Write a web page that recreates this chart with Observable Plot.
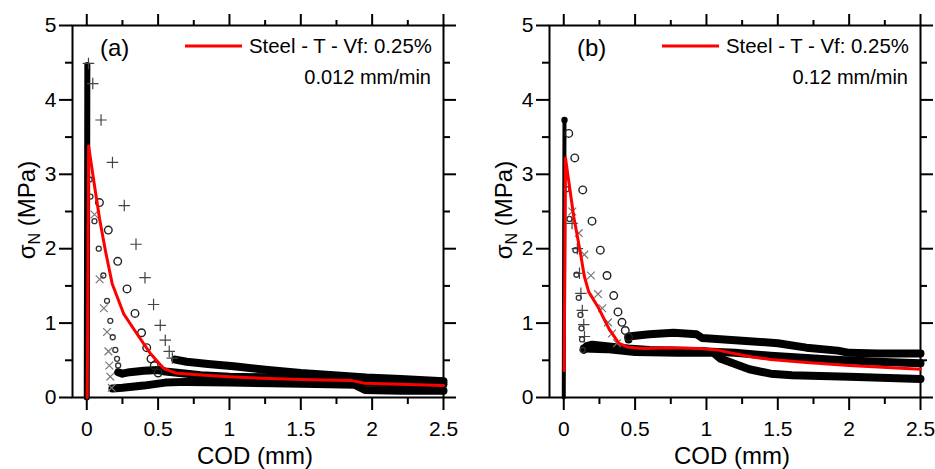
<!DOCTYPE html>
<html>
<head>
<meta charset="utf-8">
<script src="https://cdn.jsdelivr.net/npm/d3@7"></script>
<script src="https://cdn.jsdelivr.net/npm/@observablehq/plot@0.6"></script>
<style>
  body { margin: 0; background: #fff; }
  #wrap { position: relative; width: 935px; height: 469px; background: #fff; overflow: hidden; }
  #wrap svg { position: absolute; top: 0; }
</style>
</head>
<body>
<div id="wrap"></div>
<script>
// ---------- axis ticks / labels ----------
const xMajor = [0, 0.5, 1, 1.5, 2, 2.5];
const xMinor = [0.25, 0.75, 1.25, 1.75, 2.25];
const yMajor = [0, 1, 2, 3, 4, 5];
const yMinor = [0.5, 1.5, 2.5, 3.5, 4.5];
const xTitle = "COD (mm)";
const yTitleMain = "σ";
const yTitleSub = "N";
const yTitleRest = " (MPa)";
const legendLabel = "Steel - T - Vf: 0.25%";
const panelTags = ["(a)", "(b)"];
const rateLabels = ["0.012 mm/min", "0.12 mm/min"];

// ---------- panel (a) data: [COD, sigma] ----------
const aRise = [[0.0, 0], [0.004, 4.47]];
const aBandTop = [[0.62,0.51],[0.7,0.48],[0.85,0.45],[1.03,0.42],[1.27,0.37],[1.5,0.33],[1.73,0.30],[1.96,0.27],[2.2,0.25],[2.5,0.22]];
const aBandMid = [[0.22,0.34],[0.25,0.32],[0.3,0.34],[0.4,0.36],[0.5,0.37],[0.55,0.35],[0.65,0.33],[0.8,0.30],[1.0,0.28],[1.3,0.27],[1.6,0.25],[1.88,0.24],[1.95,0.20],[2.5,0.18]];
const aBandLow = [[0.18,0.12],[0.25,0.13],[0.4,0.16],[0.55,0.20],[0.7,0.21],[1.0,0.20],[1.3,0.19],[1.6,0.18],[1.88,0.17],[1.95,0.10],[2.2,0.09],[2.5,0.09]];
const aPlus = [[0.012,4.49],[0.042,4.22],[0.1,3.73],[0.18,3.16],[0.263,2.58],[0.345,2.06],[0.408,1.61],[0.468,1.25],[0.515,0.97],[0.55,0.77],[0.578,0.62],[0.6,0.53]];
const aCircle = [[0.089,2.62],[0.151,2.25],[0.217,1.83],[0.282,1.46],[0.338,1.13],[0.384,0.87],[0.42,0.67],[0.45,0.52],[0.473,0.43],[0.5,0.33]];
const aSmall = [[0.02,2.93],[0.026,2.70],[0.054,2.37],[0.084,2.0],[0.116,1.64],[0.142,1.30],[0.165,1.03],[0.182,0.81],[0.2,0.64],[0.212,0.52],[0.22,0.43]];
const aTimes = [[0.054,2.46],[0.09,1.59],[0.12,1.20],[0.142,0.88],[0.152,0.62],[0.158,0.43],[0.165,0.28],[0.175,0.13]];
const aMean = [[0.003,0],[0.013,3.38],[0.05,2.9],[0.09,2.4],[0.13,1.98],[0.178,1.53],[0.26,1.12],[0.35,0.86],[0.45,0.58],[0.54,0.39],[0.62,0.33],[0.75,0.31],[1.0,0.28],[1.22,0.26],[1.57,0.24],[1.85,0.23],[1.95,0.19],[2.5,0.16]];

// ---------- panel (b) data ----------
const bRise = [[0.0, 0], [0.005, 3.73]];
const bBandTop = [[0.454,0.78],[0.454,0.82],[0.5,0.83],[0.6,0.85],[0.77,0.87],[0.93,0.85],[0.97,0.80],[1.2,0.77],[1.5,0.73],[1.7,0.67],[1.92,0.63],[2.0,0.60],[2.2,0.59],[2.5,0.59]];
const bBandMid = [[0.14,0.64],[0.16,0.69],[0.2,0.71],[0.3,0.69],[0.45,0.66],[0.6,0.64],[0.8,0.63],[1.0,0.62],[1.2,0.60],[1.45,0.56],[1.87,0.51],[2.2,0.48],[2.5,0.46]];
const bBandLow = [[0.14,0.66],[0.3,0.65],[0.5,0.61],[0.8,0.60],[1.05,0.60],[1.1,0.52],[1.2,0.45],[1.3,0.38],[1.45,0.32],[1.6,0.30],[2.0,0.28],[2.5,0.25]];
const bCircle = [[0.035,3.55],[0.077,3.22],[0.133,2.79],[0.198,2.37],[0.256,1.98],[0.303,1.64],[0.35,1.37],[0.38,1.15],[0.408,1.01],[0.431,0.90],[0.454,0.81]];
const bTimes = [[0.06,2.5],[0.105,2.21],[0.144,1.92],[0.19,1.64],[0.24,1.39],[0.27,1.20],[0.31,1.01],[0.338,0.86],[0.373,0.73]];
const bSmall = [[0.02,2.8],[0.04,2.4],[0.082,1.98],[0.089,1.65],[0.105,1.34],[0.117,1.11],[0.124,0.93],[0.128,0.78],[0.133,0.64]];
const bPlus = [[0.058,2.34],[0.095,2.0],[0.11,1.67],[0.12,1.40],[0.13,1.17],[0.14,0.98],[0.145,0.82]];
const bMean = [[0.003,0.36],[0.012,3.22],[0.07,2.43],[0.117,1.94],[0.144,1.63],[0.175,1.42],[0.245,1.2],[0.315,0.93],[0.385,0.73],[0.444,0.68],[0.55,0.66],[0.75,0.67],[0.95,0.66],[1.075,0.64],[1.17,0.60],[1.3,0.55],[1.45,0.51],[1.7,0.47],[2.0,0.43],[2.3,0.40],[2.5,0.38]];

const FONT = "'Liberation Sans', Arial, Helvetica, sans-serif";
const P = d => ({x: d[0], y: d[1]});

function panel(cfg) {
  const {width, rise, bands, plus, circle, small, times, mean, tag, rate, peakDot} = cfg;
  const marks = [
    Plot.frame({stroke: "black", strokeWidth: 2}),
    Plot.axisX(xMajor, {anchor: "bottom", tickSize: 13, tickPadding: 11, strokeWidth: 2, tickFormat: d => String(d), fontSize: 21, label: null}),
    Plot.axisX(xMinor, {anchor: "bottom", tickSize: 7, strokeWidth: 2, tickFormat: () => "", label: null}),
    Plot.axisX(xMajor, {anchor: "top", tickSize: 12, strokeWidth: 2, tickFormat: () => "", label: null}),
    Plot.axisX(xMinor, {anchor: "top", tickSize: 6, strokeWidth: 2, tickFormat: () => "", label: null}),
    Plot.axisY(yMajor, {anchor: "left", tickSize: 13, tickPadding: 3, strokeWidth: 2, tickFormat: d => String(d), fontSize: 21, label: null}),
    Plot.axisY(yMinor, {anchor: "left", tickSize: 7, strokeWidth: 2, tickFormat: () => "", label: null}),
    Plot.axisY(yMajor, {anchor: "right", tickSize: 12, strokeWidth: 2, tickFormat: () => "", label: null}),
    Plot.axisY(yMinor, {anchor: "right", tickSize: 6, strokeWidth: 2, tickFormat: () => "", label: null}),
    ...bands.map(b => Plot.line(b.map(P), {x: "x", y: "y", stroke: "black", strokeWidth: 8, strokeLinejoin: "round", strokeLinecap: "round"})),
    Plot.line(rise.map(P), {x: "x", y: "y", stroke: "black", strokeWidth: cfg.riseWidth}),
    Plot.dot(plus.map(P), {x: "x", y: "y", symbol: "plus", r: 3.8, stroke: "#444", strokeWidth: 1.2}),
    Plot.dot(times.map(P), {x: "x", y: "y", symbol: "times", r: 3.6, stroke: "#777", strokeWidth: 1.2}),
    Plot.dot(circle.map(P), {x: "x", y: "y", symbol: "circle", r: 3.8, stroke: "#222", strokeWidth: 1.4}),
    Plot.dot(small.map(P), {x: "x", y: "y", symbol: "circle", r: 2.5, stroke: "#333", strokeWidth: 1.3}),
  ];
  if (peakDot) marks.push(Plot.dot([P(rise[rise.length - 1])], {x: "x", y: "y", r: 3.2, fill: "black"}));
  marks.push(Plot.line(mean.map(P), {x: "x", y: "y", stroke: "#f00", strokeWidth: 3, strokeLinejoin: "round"}));

  const svg = Plot.plot({
    width, height: 469,
    marginLeft: 72, marginRight: width - 72 - 371, marginTop: 25, marginBottom: 72,
    x: {domain: [-0.1, 2.5]},
    y: {domain: [0, 5]},
    style: {fontFamily: FONT, fontSize: "21px", color: "black", background: "transparent", overflow: "visible"},
    marks
  });

  const s = d3.select(svg);
  const g = s.append("g").attr("font-family", FONT).attr("fill", "black").attr("text-anchor", "start");
  g.append("text").attr("x", 100).attr("y", 56).attr("font-size", 24).attr("text-anchor", "start").text(tag);
  g.append("line").attr("x1", 185).attr("x2", 242).attr("y1", 46).attr("y2", 46).attr("stroke", "#f00").attr("stroke-width", 3);
  g.append("text").attr("x", 249).attr("y", 53).attr("font-size", 20.4).attr("text-anchor", "start").text(legendLabel);
  g.append("text").attr("x", 431).attr("y", 84).attr("font-size", 20).attr("text-anchor", "end").text(rate);
  g.append("text").attr("x", 255).attr("y", 464).attr("font-size", 24).attr("text-anchor", "middle").text(xTitle);
  const yl = g.append("text").attr("transform", "translate(35,210) rotate(-90)").attr("font-size", 24).attr("text-anchor", "middle");
  yl.append("tspan").text(yTitleMain);
  yl.append("tspan").attr("font-size", 16).attr("dy", 5).text(yTitleSub);
  yl.append("tspan").attr("dy", -5).text(yTitleRest);
  return svg;
}

const wrap = document.getElementById("wrap");
const sa = panel({width: 477, rise: aRise, bands: [aBandTop, aBandMid, aBandLow], plus: aPlus, circle: aCircle, small: aSmall, times: aTimes, mean: aMean, tag: panelTags[0], rate: rateLabels[0], riseWidth: 6, peakDot: false});
sa.style.left = "0px";
wrap.appendChild(sa);
const sb = panel({width: 458, rise: bRise, bands: [bBandTop, bBandMid, bBandLow], plus: bPlus, circle: bCircle, small: bSmall, times: bTimes, mean: bMean, tag: panelTags[1], rate: rateLabels[1], riseWidth: 4, peakDot: true});
sb.style.left = "477px";
wrap.appendChild(sb);
</script>
</body>
</html>
